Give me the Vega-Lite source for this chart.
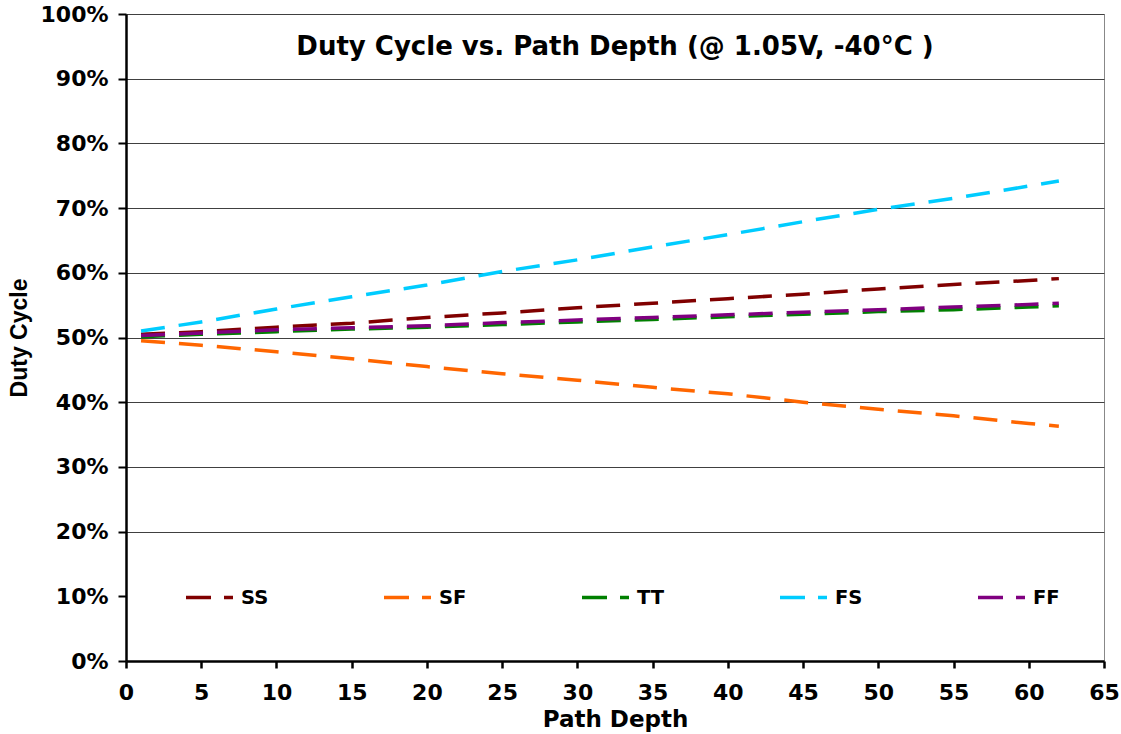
{
  "$schema": "https://vega.github.io/schema/vega-lite/v6.json",
  "width": 978,
  "height": 647,
  "autosize": "none",
  "padding": {"left": 126, "top": 14, "right": 17, "bottom": 73},
  "background": "white",
  "config": {
    "view": {"stroke": "#888888", "strokeWidth": 1},
    "font": "DejaVu Sans"
  },
  "title": {
    "text": "Duty Cycle vs. Path Depth (@ 1.05V, -40°C )",
    "font": "DejaVu Sans",
    "fontSize": 26,
    "fontWeight": "bold",
    "color": "black",
    "anchor": "middle",
    "orient": "top",
    "baseline": "alphabetic",
    "offset": -42,
    "dy": 36
  },
  "data": {
    "values": [
      {"x": 1, "s": "SS", "v": 0.505}, {"x": 5, "s": "SS", "v": 0.509}, {"x": 10, "s": "SS", "v": 0.516}, {"x": 15, "s": "SS", "v": 0.522}, {"x": 20, "s": "SS", "v": 0.531}, {"x": 25, "s": "SS", "v": 0.538}, {"x": 30, "s": "SS", "v": 0.546}, {"x": 35, "s": "SS", "v": 0.553}, {"x": 40, "s": "SS", "v": 0.560}, {"x": 45, "s": "SS", "v": 0.567}, {"x": 50, "s": "SS", "v": 0.575}, {"x": 55, "s": "SS", "v": 0.582}, {"x": 60, "s": "SS", "v": 0.588}, {"x": 62, "s": "SS", "v": 0.591},
      {"x": 1, "s": "SF", "v": 0.495}, {"x": 5, "s": "SF", "v": 0.488}, {"x": 10, "s": "SF", "v": 0.478}, {"x": 15, "s": "SF", "v": 0.467}, {"x": 20, "s": "SF", "v": 0.455}, {"x": 25, "s": "SF", "v": 0.444}, {"x": 30, "s": "SF", "v": 0.434}, {"x": 35, "s": "SF", "v": 0.423}, {"x": 40, "s": "SF", "v": 0.413}, {"x": 45, "s": "SF", "v": 0.400}, {"x": 50, "s": "SF", "v": 0.389}, {"x": 55, "s": "SF", "v": 0.379}, {"x": 60, "s": "SF", "v": 0.367}, {"x": 62, "s": "SF", "v": 0.363},
      {"x": 1, "s": "TT", "v": 0.501}, {"x": 5, "s": "TT", "v": 0.505}, {"x": 10, "s": "TT", "v": 0.509}, {"x": 15, "s": "TT", "v": 0.513}, {"x": 20, "s": "TT", "v": 0.516}, {"x": 25, "s": "TT", "v": 0.520}, {"x": 30, "s": "TT", "v": 0.524}, {"x": 35, "s": "TT", "v": 0.528}, {"x": 40, "s": "TT", "v": 0.532}, {"x": 45, "s": "TT", "v": 0.536}, {"x": 50, "s": "TT", "v": 0.540}, {"x": 55, "s": "TT", "v": 0.543}, {"x": 60, "s": "TT", "v": 0.547}, {"x": 62, "s": "TT", "v": 0.549},
      {"x": 1, "s": "FS", "v": 0.510}, {"x": 5, "s": "FS", "v": 0.524}, {"x": 10, "s": "FS", "v": 0.544}, {"x": 15, "s": "FS", "v": 0.563}, {"x": 20, "s": "FS", "v": 0.581}, {"x": 25, "s": "FS", "v": 0.602}, {"x": 30, "s": "FS", "v": 0.620}, {"x": 35, "s": "FS", "v": 0.640}, {"x": 40, "s": "FS", "v": 0.659}, {"x": 45, "s": "FS", "v": 0.679}, {"x": 50, "s": "FS", "v": 0.698}, {"x": 55, "s": "FS", "v": 0.715}, {"x": 60, "s": "FS", "v": 0.734}, {"x": 62, "s": "FS", "v": 0.742},
      {"x": 1, "s": "FF", "v": 0.503}, {"x": 5, "s": "FF", "v": 0.507}, {"x": 10, "s": "FF", "v": 0.512}, {"x": 15, "s": "FF", "v": 0.515}, {"x": 20, "s": "FF", "v": 0.518}, {"x": 25, "s": "FF", "v": 0.523}, {"x": 30, "s": "FF", "v": 0.527}, {"x": 35, "s": "FF", "v": 0.531}, {"x": 40, "s": "FF", "v": 0.535}, {"x": 45, "s": "FF", "v": 0.539}, {"x": 50, "s": "FF", "v": 0.543}, {"x": 55, "s": "FF", "v": 0.547}, {"x": 60, "s": "FF", "v": 0.551}, {"x": 62, "s": "FF", "v": 0.553}
    ]
  },
  "mark": {"type": "line", "strokeWidth": 3.5, "strokeDash": [24, 14]},
  "encoding": {
    "x": {
      "field": "x",
      "type": "quantitative",
      "scale": {"domain": [0, 65], "nice": false, "zero": false},
      "axis": {
        "values": [0, 5, 10, 15, 20, 25, 30, 35, 40, 45, 50, 55, 60, 65],
        "grid": false,
        "domainColor": "black",
        "domainWidth": 2.5,
        "tickColor": "black",
        "tickWidth": 2.5,
        "tickSize": 7,
        "labelFont": "DejaVu Sans",
        "labelFontSize": 22,
        "labelFontWeight": "bold",
        "labelColor": "black",
        "labelPadding": 14,
        "labelFlush": false,
        "labelOverlap": false,
        "title": "Path Depth",
        "titleFont": "DejaVu Sans",
        "titleFontSize": 23,
        "titleFontWeight": "bold",
        "titleColor": "black",
        "titlePadding": 5
      }
    },
    "y": {
      "field": "v",
      "type": "quantitative",
      "scale": {"domain": [0, 1], "nice": false},
      "axis": {
        "values": [0, 0.1, 0.2, 0.3, 0.4, 0.5, 0.6, 0.7, 0.8, 0.9, 1],
        "format": ".0%",
        "grid": true,
        "gridColor": "#404040",
        "gridWidth": 1.2,
        "gridOpacity": {"condition": {"test": "datum.value < 0.15", "value": 0}, "value": 1},
        "domainColor": "black",
        "domainWidth": 2.5,
        "tickColor": "black",
        "tickWidth": 2,
        "tickSize": 8,
        "labelFont": "DejaVu Sans",
        "labelFontSize": 22,
        "labelFontWeight": "bold",
        "labelColor": "black",
        "labelPadding": 10,
        "labelFlush": false,
        "labelOverlap": false,
        "title": "Duty Cycle",
        "titleFont": "Liberation Sans",
        "titleFontSize": 23,
        "titleFontWeight": "bold",
        "titleColor": "black",
        "titlePadding": 9
      }
    },
    "color": {
      "field": "s",
      "type": "nominal",
      "scale": {
        "domain": ["SS", "SF", "TT", "FS", "FF"],
        "range": ["#800000", "#FF6600", "#008000", "#00CCFF", "#800080"]
      },
      "legend": {
        "orient": "none",
        "legendX": 58,
        "legendY": 558,
        "direction": "horizontal",
        "columns": 5,
        "columnPadding": 108,
        "gridAlign": "all",
        "title": null,
        "padding": 0,
        "symbolType": "stroke",
        "symbolSize": 2209,
        "symbolStrokeWidth": 3.5,
        "symbolDash": [25, 13],
        "labelFont": "DejaVu Sans",
        "labelFontSize": 19.5,
        "labelFontWeight": "bold",
        "labelColor": "black",
        "labelOffset": 6
      }
    }
  }
}
